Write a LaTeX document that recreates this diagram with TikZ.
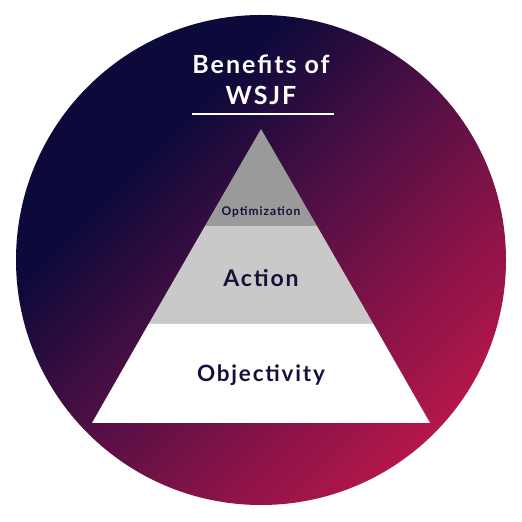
\documentclass[tikz,border=0pt]{standalone}
\usepackage{fontspec}
\setmainfont{Lato}
\newfontfamily\wsjffont{Lato}[LetterSpace=8]
\usepackage{tikz}
\usetikzlibrary{positioning,calc}
\definecolor{navyc}{HTML}{0B0A3A}
\definecolor{plumc}{HTML}{5A1046}
\definecolor{crimc}{HTML}{C8184A}
\definecolor{inkc}{HTML}{14123C}
\definecolor{grtop}{HTML}{9A9A9A}
\definecolor{grmid}{HTML}{C9C9C9}
\pgfdeclarehorizontalshading{wsjfbg}{100bp}{color(0bp)=(navyc); color(34bp)=(navyc);
  color(52bp)=(plumc); color(80bp)=(crimc); color(100bp)=(crimc)}
\tikzset{
  layer/.style ={draw=none},
  lbl/.style   ={text=inkc, inner sep=0pt},
  ttl/.style   ={text=white, font=\wsjffont\fontsize{25}{31}\selectfont\bfseries,
                 align=center, inner sep=0pt},
}
\begin{document}
\begin{tikzpicture}[x=1pt, y=1pt]
  \useasboundingbox[fill=white] (0,0) rectangle (522,522);
  % backdrop
  \shade[shading=wsjfbg, shading angle=-45] (261,262) circle (245);

  % pyramid layers
  \coordinate (apex) at (261,393);
  \coordinate (l1) at (205,296);   \coordinate (r1) at (317,296);
  \coordinate (l2) at (148.6,198); \coordinate (r2) at (373.4,198);
  \coordinate (l3) at (92,99);     \coordinate (r3) at (430,99);
  \fill[layer, grtop] (apex) -- (r1) -- (l1) -- cycle;
  \fill[layer, grmid] (l1) -- (r1) -- (r2) -- (l2) -- cycle;
  \fill[layer, white] (l2) -- (r2) -- (r3) -- (l3) -- cycle;

  \node[lbl, font=\wsjffont\fontsize{12}{14}\selectfont\bfseries] (opt) at (261,310) {Optimization};
  \node[lbl, font=\wsjffont\fontsize{23}{27}\selectfont\bfseries] (act) at (261,244) {Action};
  \node[lbl, font=\wsjffont\fontsize{22.5}{27}\selectfont\bfseries] (obj) at (261,147) {Objectivity};

  % title
  \node[ttl] (title) at (261,442) {Benefits of\\WSJF};
  \coordinate (ulA) at (192,408);
  \coordinate (ulB) at (334,408);
  \draw[white, line width=1.6pt] (ulA) -- (ulB);
\end{tikzpicture}
\end{document}
